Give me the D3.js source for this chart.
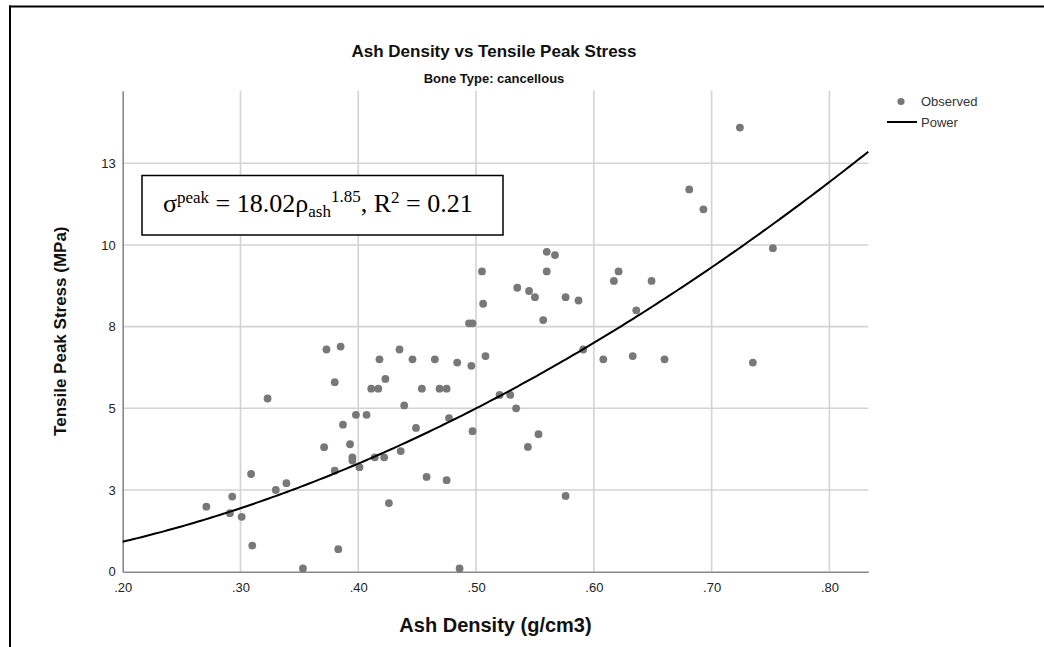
<!DOCTYPE html>
<html>
<head>
<meta charset="utf-8">
<script src="https://cdn.jsdelivr.net/npm/d3@7"></script>
<style>
  html, body { margin: 0; padding: 0; background: #fff; }
  svg { display: block; }
</style>
</head>
<body>
<svg id="chart" width="1044" height="647"></svg>
<script>
// ---------- data ----------
const ashDensity = [
  0.271, 0.293, 0.291, 0.301, 0.309, 0.310, 0.330, 0.339, 0.353, 0.371,
  0.380, 0.383, 0.387, 0.393, 0.395, 0.395, 0.401, 0.414, 0.422, 0.426,
  0.436, 0.449, 0.458, 0.475, 0.486, 0.497, 0.323, 0.373, 0.385, 0.380,
  0.418, 0.423, 0.411, 0.417, 0.435, 0.446, 0.465, 0.454, 0.469, 0.475,
  0.439, 0.398, 0.407, 0.477, 0.560, 0.567, 0.505, 0.560, 0.535, 0.545,
  0.550, 0.576, 0.587, 0.506, 0.557, 0.494, 0.497, 0.617, 0.621, 0.649,
  0.636, 0.752, 0.591, 0.608, 0.633, 0.660, 0.735, 0.508, 0.484, 0.496,
  0.520, 0.529, 0.534, 0.724, 0.681, 0.693, 0.544, 0.553, 0.576
];
const peakStress = [
  1.99, 2.30, 1.79, 1.68, 2.99, 0.80, 2.50, 2.71, 0.10, 3.81,
  3.09, 0.69, 4.50, 3.90, 3.50, 3.40, 3.20, 3.50, 3.50, 2.10,
  3.69, 4.40, 2.90, 2.80, 0.10, 4.30, 5.30, 6.80, 6.89, 5.80,
  6.50, 5.90, 5.60, 5.60, 6.80, 6.50, 6.50, 5.60, 5.60, 5.60,
  5.09, 4.80, 4.80, 4.70, 9.79, 9.69, 9.19, 9.19, 8.69, 8.59,
  8.40, 8.40, 8.30, 8.20, 7.70, 7.60, 7.60, 8.90, 9.19, 8.90,
  8.00, 9.90, 6.80, 6.50, 6.60, 6.50, 6.40, 6.60, 6.40, 6.30,
  5.41, 5.41, 5.00, 13.59, 11.70, 11.09, 3.82, 4.21, 2.32
];
// fitted power model shown in the chart: sigma = a * rho^b
const powerCoefA = 18.02;
const powerCoefB = 1.85;

const xTickValues = [0.2, 0.3, 0.4, 0.5, 0.6, 0.7, 0.8];
const xTickLabels = [".20", ".30", ".40", ".50", ".60", ".70", ".80"];
const yTickValues = [0, 2.5, 5, 7.5, 10, 12.5];
const yTickLabels = ["0", "3", "5", "8", "10", "13"];
const xDomain = [0.2, 0.833];
const yDomain = [0, 14.72];

const titleText = "Ash Density vs Tensile Peak Stress";
const subtitleText = "Bone Type: cancellous";
const xTitle = "Ash Density (g/cm3)";
const yTitle = "Tensile Peak Stress (MPa)";
const legendLabels = ["Observed", "Power"];

// ---------- layout ----------
const svg = d3.select("#chart");
const pLeft = 122.7, pRight = 868.3, pTop = 90.7, pBottom = 571.7;
const x = d3.scaleLinear().domain(xDomain).range([pLeft, pRight]);
const y = d3.scaleLinear().domain(yDomain).range([pBottom, pTop]);

const sans = "'Liberation Sans', Arial, sans-serif";
const dotColor = "#787878";
const gridColor = "#d3d3d3";
const axisColor = "#888";

// outer frame
svg.append("line").attr("x1", 9).attr("x2", 1044).attr("y1", 6.5).attr("y2", 6.5)
  .attr("stroke", "#000").attr("stroke-width", 2);
svg.append("line").attr("x1", 10).attr("x2", 10).attr("y1", 5.5).attr("y2", 647)
  .attr("stroke", "#000").attr("stroke-width", 2);

// gridlines
svg.append("g").selectAll("line").data(xTickValues.filter(v => v > xDomain[0]))
  .join("line")
  .attr("x1", d => x(d)).attr("x2", d => x(d))
  .attr("y1", pTop).attr("y2", pBottom)
  .attr("stroke", gridColor).attr("stroke-width", 1.6);
svg.append("g").selectAll("line").data(yTickValues.filter(v => v > yDomain[0]))
  .join("line")
  .attr("x1", pLeft).attr("x2", pRight)
  .attr("y1", d => y(d)).attr("y2", d => y(d))
  .attr("stroke", gridColor).attr("stroke-width", 1.6);

// axes
const xAxis = d3.axisBottom(x).tickValues(xTickValues)
  .tickFormat((d, i) => xTickLabels[i]).tickSize(0).tickPadding(11);
const gx = svg.append("g").attr("transform", `translate(0,${pBottom})`).call(xAxis);
gx.select(".domain").attr("stroke", axisColor).attr("stroke-width", 1.6);
gx.selectAll("text").attr("font-family", sans).attr("font-size", 13).attr("fill", "#222");

const yAxis = d3.axisLeft(y).tickValues(yTickValues)
  .tickFormat((d, i) => yTickLabels[i]).tickSize(0).tickPadding(7);
const gy = svg.append("g").attr("transform", `translate(${pLeft},0)`).call(yAxis);
gy.select(".domain").attr("stroke", axisColor).attr("stroke-width", 1.6);
gy.selectAll("text").attr("font-family", sans).attr("font-size", 13).attr("fill", "#222");

// points
svg.append("g").selectAll("circle").data(ashDensity.map((d, i) => [d, peakStress[i]]))
  .join("circle")
  .attr("cx", d => x(d[0])).attr("cy", d => y(d[1])).attr("r", 3.9)
  .attr("fill", dotColor);

// power fit line
const curveXs = d3.range(0, 201).map(i => xDomain[0] + (xDomain[1] - xDomain[0]) * i / 200);
const line = d3.line().x(d => x(d)).y(d => y(powerCoefA * Math.pow(d, powerCoefB)));
svg.append("path").datum(curveXs).attr("d", line)
  .attr("fill", "none").attr("stroke", "#000").attr("stroke-width", 2);

// titles
svg.append("text").attr("x", 494).attr("y", 57).attr("text-anchor", "middle")
  .attr("font-family", sans).attr("font-size", 17).attr("font-weight", "bold")
  .attr("fill", "#111").text(titleText);
svg.append("text").attr("x", 494).attr("y", 83).attr("text-anchor", "middle")
  .attr("font-family", sans).attr("font-size", 13).attr("font-weight", "bold")
  .attr("fill", "#111").text(subtitleText);
svg.append("text").attr("x", (pLeft + pRight) / 2).attr("y", 632).attr("text-anchor", "middle")
  .attr("font-family", sans).attr("font-size", 20).attr("font-weight", "bold")
  .attr("fill", "#111").text(xTitle);
svg.append("text").attr("transform", `translate(66,${(pTop + pBottom) / 2}) rotate(-90)`)
  .attr("text-anchor", "middle")
  .attr("font-family", sans).attr("font-size", 17).attr("font-weight", "bold")
  .attr("fill", "#111").text(yTitle);

// legend
svg.append("circle").attr("cx", 901).attr("cy", 101.5).attr("r", 3.6).attr("fill", dotColor);
svg.append("text").attr("x", 921).attr("y", 106).attr("font-family", sans)
  .attr("font-size", 13).attr("fill", "#333").text(legendLabels[0]);
svg.append("line").attr("x1", 887).attr("x2", 917).attr("y1", 122).attr("y2", 122)
  .attr("stroke", "#000").attr("stroke-width", 2);
svg.append("text").attr("x", 921).attr("y", 127).attr("font-family", sans)
  .attr("font-size", 13).attr("fill", "#333").text(legendLabels[1]);

// equation box
svg.append("rect").attr("x", 142).attr("y", 175.5).attr("width", 361).attr("height", 59.5)
  .attr("fill", "#fff").attr("stroke", "#000").attr("stroke-width", 1.5);
const serif = "'Liberation Serif', 'Times New Roman', serif";
const eq = svg.append("text").attr("x", 163).attr("y", 212)
  .attr("font-family", serif).attr("font-size", 26).attr("fill", "#000");
const parts = [
  ["σ", 0, 26], ["peak", -9, 17], [" = 18.02ρ", 9, 26], ["ash", 5, 17],
  ["1.85", -15, 17], [", R", 10, 26], ["2", -9, 17], [" = 0.21", 9, 26]
];
parts.forEach(p => {
  eq.append("tspan").attr("dy", p[1]).attr("font-size", p[2]).text(p[0]);
});
</script>
</body>
</html>
